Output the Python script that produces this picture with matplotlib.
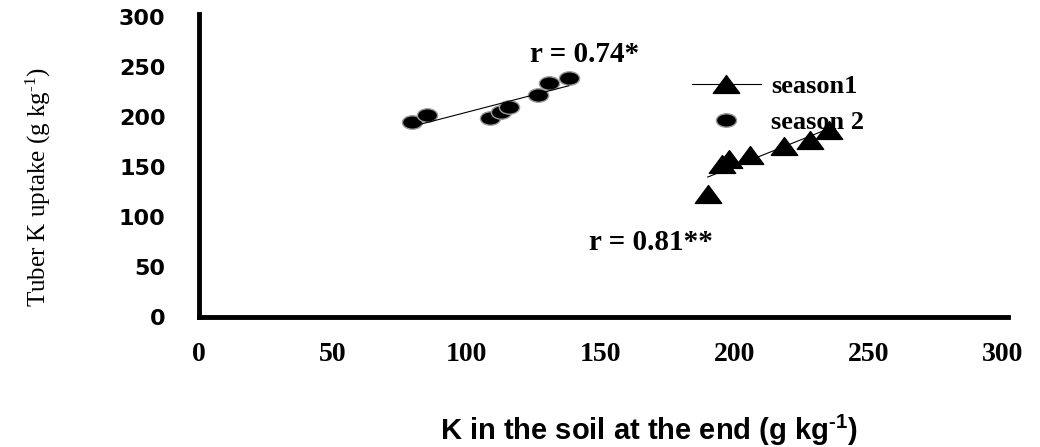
import matplotlib
matplotlib.use("Agg")
import matplotlib.pyplot as plt
import numpy as np
from matplotlib.lines import Line2D
from matplotlib.path import Path
from matplotlib.transforms import Affine2D

# season 1 (triangles)
soilK_s1 = [189.9, 195.4, 198.0, 205.8, 218.3, 228.0, 235.3]
uptake_s1 = [123, 153, 158, 162, 171, 177, 187]

# season 2 (circles)
soilK_s2 = [79.6, 85.2, 108.8, 112.6, 115.7, 126.6, 130.8, 138.0]
uptake_s2 = [195, 202, 199, 205, 210, 222, 234, 239]

xTicks = [0, 50, 100, 150, 200, 250, 300]
yTicks = [0, 50, 100, 150, 200, 250, 300]
seriesNames = ["season1", "season 2"]
rLabels = ["r = 0.81**", "r = 0.74*"]

plt.rcParams["mathtext.default"] = "regular"

# 原图被横向拉宽，标记也做成扁的
ellipse = Path.unit_circle().transformed(Affine2D().scale(1.5, 1.0))
triangle = Path([(0, 1), (-1.48, -1), (1.48, -1), (0, 1)],
                [Path.MOVETO, Path.LINETO, Path.LINETO, Path.CLOSEPOLY])

fig = plt.figure(figsize=(10.4, 4.47), dpi=100)
ax = fig.add_axes([199 / 1040, 1 - 317 / 447, 809 / 1040, 303 / 447])

# 散点
ax.plot(soilK_s1, uptake_s1, ls="none", marker=triangle, ms=19,
        mfc="black", mec="black")
ax.plot(soilK_s2, uptake_s2, ls="none", marker=ellipse, ms=14.5,
        mfc="black", mec="#9a9a9a", mew=1)

# 线性趋势线
for xs, ys in [(soilK_s1, uptake_s1), (soilK_s2, uptake_s2)]:
    k, b = np.polyfit(xs, ys, 1)
    xx = np.array([min(xs), max(xs)])
    ax.plot(xx, k * xx + b, color="black", lw=0.8, zorder=3)

ax.text(168.7, 75, rLabels[0], ha="center", va="center", fontsize=21,
        fontweight="bold", family="Liberation Serif")
ax.text(144, 262, rLabels[1], ha="center", va="center", fontsize=21,
        fontweight="bold", family="Liberation Serif")

ax.set_xlim(0, 302)
ax.set_ylim(0, 303)
ax.set_xticks(xTicks)
ax.set_yticks(yTicks)
ax.set_xticklabels([str(v) for v in xTicks], family="Liberation Serif",
                   fontweight="bold", fontsize=20)
ax.set_yticklabels([str(v) for v in yTicks], family="DejaVu Sans",
                   fontweight="bold", fontsize=16)
ax.tick_params(axis="x", length=0, pad=18)
ax.tick_params(axis="y", length=0, pad=24)

for side in ["top", "right"]:
    ax.spines[side].set_visible(False)
for side in ["left", "bottom"]:
    ax.spines[side].set_linewidth(3.5)

fig.text(649 / 1040, 1 - 430 / 447, "K in the soil at the end (g kg$^{\u2010 1}$)",
         ha="center", va="center", fontsize=21, fontweight="bold",
         family="Liberation Sans")
fig.text(38 / 1040, 1 - 187 / 447, "Tuber K uptake (g kg$^{\u2010 1}$)",
         ha="center", va="center", rotation=90, fontsize=18,
         family="Liberation Serif")

handles = [
    Line2D([], [], color="black", lw=0.8, marker=triangle, ms=19,
           mfc="black", mec="black"),
    Line2D([], [], ls="none", marker=ellipse, ms=14.5, mfc="black",
           mec="#9a9a9a", mew=1),
]
leg = fig.legend(handles, seriesNames, loc="upper left",
                 bbox_to_anchor=(692 / 1040, 1 - 75 / 447),
                 bbox_transform=fig.transFigure, frameon=False,
                 borderpad=0, borderaxespad=0, numpoints=1,
                 handlelength=2.6, handletextpad=0.4, labelspacing=0.45,
                 prop={"family": "Liberation Serif", "weight": "bold",
                       "size": 19})

fig.savefig("out.png", dpi=100)
